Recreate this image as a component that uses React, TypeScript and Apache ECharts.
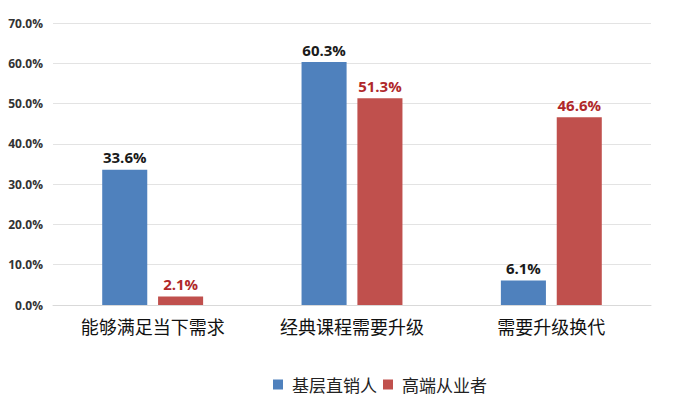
import React, { useEffect, useRef } from "react";
import * as echarts from "echarts";

const categories = ["能够满足当下需求", "经典课程需要升级", "需要升级换代"];
const seriesNames = ["基层直销人", "高端从业者"];
const grassroots = [33.6, 60.3, 6.1];
const highEnd = [2.1, 51.3, 46.6];

export default function App() {
  const ref = useRef<HTMLDivElement>(null);
  useEffect(() => {
    const chart = echarts.init(ref.current!, null, { renderer: "svg" });
    chart.setOption({
      animation: false,
      backgroundColor: "#ffffff",
      grid: { left: 53, right: 26, top: 23, bottom: 92 },
      legend: {
        data: seriesNames,
        left: 268,
        top: 371,
        padding: 5,
        icon: "rect",
        itemWidth: 10,
        itemHeight: 10,
        itemGap: 6,
        textStyle: {
          fontSize: 17,
          color: "#222",
          fontFamily: "Noto Sans CJK SC",
          padding: [0, 0, 0, 4],
        },
      },
      xAxis: {
        type: "category",
        data: categories,
        axisTick: { show: false },
        axisLine: { lineStyle: { color: "#d9d9d9" } },
        axisLabel: { fontSize: 18, color: "#111", margin: 12, fontFamily: "Noto Sans CJK SC" },
      },
      yAxis: {
        type: "value",
        min: 0,
        max: 70,
        interval: 10,
        axisLine: { show: false },
        axisTick: { show: false },
        splitLine: { lineStyle: { color: "#e3e3e3" } },
        axisLabel: {
          formatter: (v: number) => v.toFixed(1) + "%",
          fontSize: 12,
          fontWeight: "bold",
          color: "#333",
          margin: 10,
          fontFamily: "Open Sans",
        },
      },
      series: [
        {
          name: seriesNames[0],
          type: "bar",
          data: grassroots,
          barWidth: "22.6%",
          barGap: "24%",
          itemStyle: { color: "#4f81bd" },
          label: {
            show: true,
            position: "top",
            distance: 5,
            formatter: (p: any) => p.value.toFixed(1) + "%",
            fontSize: 15,
            fontWeight: "bold",
            color: "#1a1a1a",
            fontFamily: "Open Sans",
          },
        },
        {
          name: seriesNames[1],
          type: "bar",
          data: highEnd,
          barWidth: "22.6%",
          itemStyle: { color: "#c0504d" },
          label: {
            show: true,
            position: "top",
            distance: 5,
            formatter: (p: any) => p.value.toFixed(1) + "%",
            fontSize: 15,
            fontWeight: "bold",
            color: "#b0282a",
            fontFamily: "Open Sans",
          },
        },
      ],
    });
    return () => chart.dispose();
  }, []);
  return (
    <div
      ref={ref}
      style={{ position: "fixed", left: 0, top: 0, width: 677, height: 397 }}
    />
  );
}
